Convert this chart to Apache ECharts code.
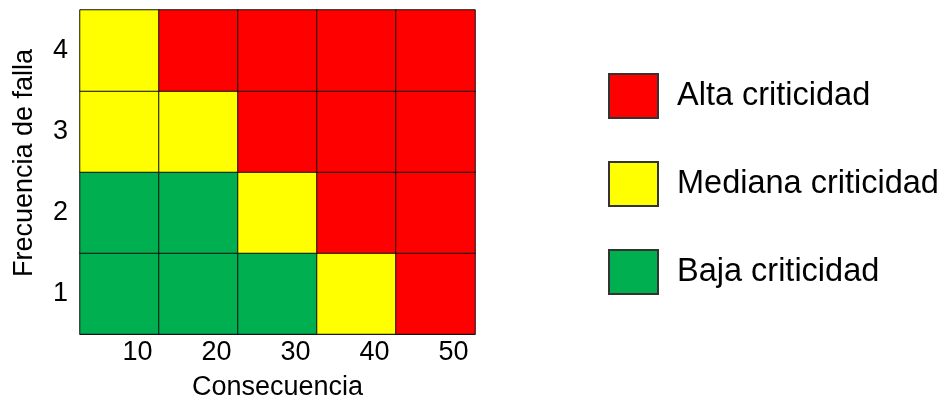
<!DOCTYPE html>
<html>
<head>
<meta charset="utf-8">
<style>
  html, body { margin: 0; padding: 0; background: #ffffff; }
  #chart { width: 944px; height: 400px; }
</style>
<script src="https://cdn.jsdelivr.net/npm/echarts@6/dist/echarts.min.js"></script>
</head>
<body>
<div id="chart"></div>
<script>
// Consequence levels (columns) and failure frequency levels (rows)
const consecuencia = ['10', '20', '30', '40', '50'];
const frecuencia = ['1', '2', '3', '4'];

// Criticality class per cell: rows bottom (1) to top (4), columns 10..50
// 0 = baja, 1 = mediana, 2 = alta
const fila1 = [0, 0, 0, 1, 2];
const fila2 = [0, 0, 1, 2, 2];
const fila3 = [1, 1, 2, 2, 2];
const fila4 = [1, 2, 2, 2, 2];

const clases = ['Baja criticidad', 'Mediana criticidad', 'Alta criticidad'];
const colores = ['#00B050', '#FFFF00', '#FF0000'];

const filas = [fila1, fila2, fila3, fila4];
const FONT = '"Liberation Sans", Arial, sans-serif';

// one heatmap series per class so each has its own legend entry
const series = clases.map(function (nombre, c) {
  const data = [];
  filas.forEach(function (fila, yi) {
    fila.forEach(function (v, xi) {
      if (v === c) data.push([xi, yi, v]);
    });
  });
  return {
    name: nombre,
    type: 'heatmap',
    data: data,
    itemStyle: { color: colores[c], borderColor: '#111', borderWidth: 1 },
    emphasis: { disabled: true },
    animation: false
  };
});

const chart = echarts.init(document.getElementById('chart'), null, { renderer: 'canvas' });
chart.setOption({
  animation: false,
  textStyle: { fontFamily: FONT },
  grid: { left: 80, right: 469, top: 10, bottom: 66, containLabel: false, outerBoundsMode: 'none' },
  xAxis: {
    type: 'category',
    data: consecuencia,
    name: 'Consecuencia',
    nameLocation: 'middle',
    nameGap: 40,
    nameTextStyle: { fontSize: 27, color: '#000', fontFamily: FONT },
    axisLine: { show: true, lineStyle: { color: '#111', width: 1 } },
    axisTick: { show: false },
    splitArea: { show: false },
    axisLabel: { fontSize: 27, color: '#000', margin: 5, padding: [0, 0, 0, 36], fontFamily: FONT }
  },
  yAxis: {
    type: 'category',
    data: frecuencia,
    name: 'Frecuencia de falla',
    nameLocation: 'middle',
    nameGap: 42,
    nameTextStyle: { fontSize: 27, color: '#000', fontFamily: FONT, padding: [0, 0, 0, 18] },
    axisLine: { show: true, lineStyle: { color: '#111', width: 1 } },
    axisTick: { show: false },
    axisLabel: { fontSize: 27, color: '#000', margin: 12, fontFamily: FONT }
  },
  legend: {
    orient: 'vertical',
    left: 608,
    top: 73,
    padding: 0,
    itemWidth: 49,
    itemHeight: 44,
    itemGap: 42,
    icon: 'rect',
    selectedMode: false,
    data: ['Alta criticidad', 'Mediana criticidad', 'Baja criticidad'],
    itemStyle: { borderColor: '#333', borderWidth: 2 },
    textStyle: { fontSize: 32.5, color: '#000', padding: [0, 0, 0, 14], fontFamily: FONT }
  },
  series: series
});
</script>
</body>
</html>
